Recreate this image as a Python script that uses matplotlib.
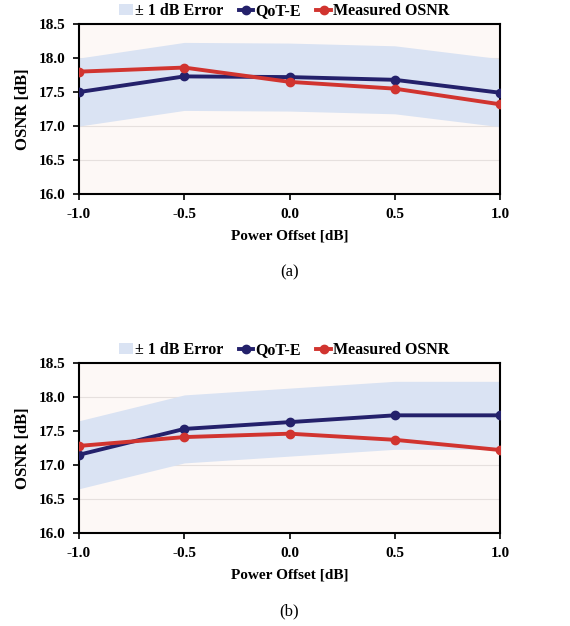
import numpy as np
import matplotlib.pyplot as plt
from matplotlib.patches import Patch
from matplotlib.lines import Line2D

plt.rcParams['font.family'] = 'Liberation Serif'
plt.rcParams['font.weight'] = 'bold'

# Data
power_offset = [-1.0, -0.5, 0.0, 0.5, 1.0]
qot_a = [17.50, 17.73, 17.72, 17.68, 17.49]
osnr_a = [17.80, 17.86, 17.65, 17.55, 17.32]
qot_b = [17.15, 17.53, 17.63, 17.73, 17.73]
osnr_b = [17.28, 17.41, 17.46, 17.37, 17.22]
band_half_width = 0.5
panel_labels = ['(a)', '(b)']
y_ticks = [16.0, 16.5, 17.0, 17.5, 18.0, 18.5]
x_ticks = [-1.0, -0.5, 0.0, 0.5, 1.0]

navy = '#24216b'
red = '#d1342f'
band_color = '#dae3f3'
face_color = '#fdf8f6'


def draw_panel(ax, qot, osnr, label):
    qot = np.array(qot)
    ax.set_facecolor(face_color)
    ax.fill_between(power_offset, qot - band_half_width, qot + band_half_width,
                    color=band_color, linewidth=0, zorder=1)
    ax.plot(power_offset, qot, color=navy, linewidth=2.8, marker='o',
            markersize=6, zorder=3)
    ax.plot(power_offset, osnr, color=red, linewidth=2.8, marker='o',
            markersize=6, zorder=4)

    ax.set_xlim(-1.0, 1.0)
    ax.set_ylim(16.0, 18.5)
    ax.set_xticks(x_ticks)
    ax.set_yticks(y_ticks)
    ax.set_xticklabels([f'{v:.1f}' for v in x_ticks], fontsize=11, fontweight='bold')
    ax.set_yticklabels([f'{v:.1f}' for v in y_ticks], fontsize=11, fontweight='bold')
    ax.tick_params(direction='out', length=4, width=1.2, pad=6)
    ax.yaxis.grid(True, color='#e6e0de', linewidth=0.8, zorder=0)
    ax.set_axisbelow(True)
    for sp in ax.spines.values():
        sp.set_linewidth(1.5)
        sp.set_color('black')

    ax.set_xlabel('Power Offset [dB]', fontsize=11, fontweight='bold', labelpad=6)
    ax.set_ylabel('OSNR [dB]', fontsize=12, fontweight='bold', labelpad=5)

    handles = [
        Patch(facecolor=band_color, edgecolor='none', label='± 1 dB Error'),
        Line2D([0], [0], color=navy, linewidth=2.8, marker='o', markersize=6, label='QoT-E'),
        Line2D([0], [0], color=red, linewidth=2.8, marker='o', markersize=6, label='Measured OSNR'),
    ]
    ax.legend(handles=handles, loc='center', bbox_to_anchor=(0.487, 1.075), ncol=3,
              frameon=False, fontsize=11.5, handlelength=0.9, handletextpad=0.15,
              columnspacing=0.95, borderaxespad=0, borderpad=0)

    ax.text(0.5, -0.46, label, transform=ax.transAxes, ha='center', va='center',
            fontsize=12, fontweight='normal')


fig = plt.figure(figsize=(5.7, 6.26), dpi=100)
ax_a = fig.add_axes([0.1386, 0.690, 0.7386, 0.2716])
ax_b = fig.add_axes([0.1386, 0.1486, 0.7386, 0.2716])

draw_panel(ax_a, qot_a, osnr_a, panel_labels[0])
draw_panel(ax_b, qot_b, osnr_b, panel_labels[1])

fig.savefig('out.png', dpi=100)
